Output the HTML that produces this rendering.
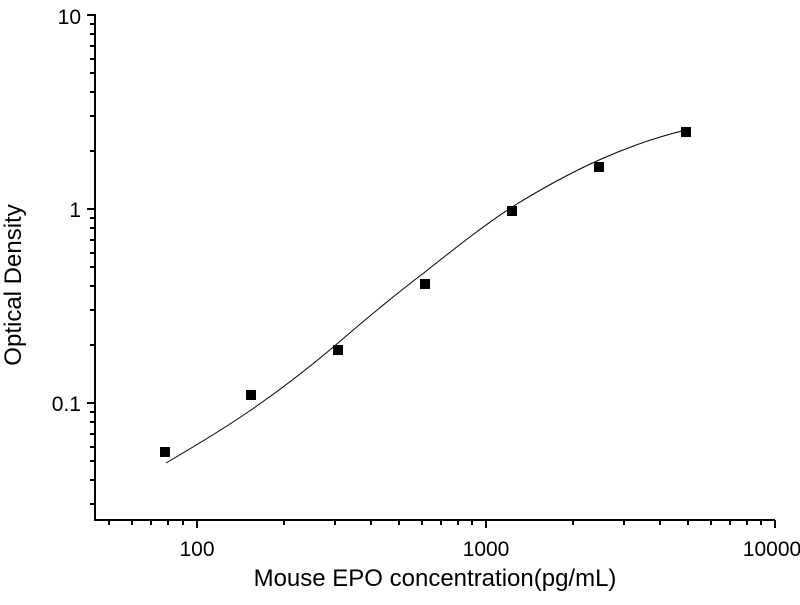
<!DOCTYPE html>
<html><head><style>body{margin:0;background:#fff}</style></head><body>
<svg width="800" height="600" xmlns="http://www.w3.org/2000/svg" font-family="Liberation Sans, sans-serif">
<rect width="800" height="600" fill="#fff"/>
<g stroke="#000" stroke-width="2" fill="none">
<line x1="95" y1="14" x2="95" y2="520"/>
<line x1="94" y1="520" x2="775" y2="520"/>
<line x1="87" y1="15" x2="95" y2="15"/>
<line x1="87" y1="209" x2="95" y2="209"/>
<line x1="87" y1="403" x2="95" y2="403"/>
<line x1="90" y1="24" x2="95" y2="24"/>
<line x1="90" y1="34" x2="95" y2="34"/>
<line x1="90" y1="46" x2="95" y2="46"/>
<line x1="90" y1="59" x2="95" y2="59"/>
<line x1="90" y1="73" x2="95" y2="73"/>
<line x1="90" y1="92" x2="95" y2="92"/>
<line x1="90" y1="116" x2="95" y2="116"/>
<line x1="90" y1="151" x2="95" y2="151"/>
<line x1="90" y1="218" x2="95" y2="218"/>
<line x1="90" y1="228" x2="95" y2="228"/>
<line x1="90" y1="240" x2="95" y2="240"/>
<line x1="90" y1="253" x2="95" y2="253"/>
<line x1="90" y1="267" x2="95" y2="267"/>
<line x1="90" y1="286" x2="95" y2="286"/>
<line x1="90" y1="310" x2="95" y2="310"/>
<line x1="90" y1="345" x2="95" y2="345"/>
<line x1="90" y1="412" x2="95" y2="412"/>
<line x1="90" y1="422" x2="95" y2="422"/>
<line x1="90" y1="434" x2="95" y2="434"/>
<line x1="90" y1="447" x2="95" y2="447"/>
<line x1="90" y1="461" x2="95" y2="461"/>
<line x1="90" y1="480" x2="95" y2="480"/>
<line x1="90" y1="504" x2="95" y2="504"/>
<line x1="197" y1="520" x2="197" y2="528"/>
<line x1="486" y1="520" x2="486" y2="528"/>
<line x1="775" y1="520" x2="775" y2="528"/>
<line x1="109" y1="520" x2="109" y2="525"/>
<line x1="132" y1="520" x2="132" y2="525"/>
<line x1="151" y1="520" x2="151" y2="525"/>
<line x1="168" y1="520" x2="168" y2="525"/>
<line x1="183" y1="520" x2="183" y2="525"/>
<line x1="284" y1="520" x2="284" y2="525"/>
<line x1="335" y1="520" x2="335" y2="525"/>
<line x1="371" y1="520" x2="371" y2="525"/>
<line x1="399" y1="520" x2="399" y2="525"/>
<line x1="422" y1="520" x2="422" y2="525"/>
<line x1="441" y1="520" x2="441" y2="525"/>
<line x1="458" y1="520" x2="458" y2="525"/>
<line x1="472" y1="520" x2="472" y2="525"/>
<line x1="573" y1="520" x2="573" y2="525"/>
<line x1="624" y1="520" x2="624" y2="525"/>
<line x1="660" y1="520" x2="660" y2="525"/>
<line x1="688" y1="520" x2="688" y2="525"/>
<line x1="711" y1="520" x2="711" y2="525"/>
<line x1="730" y1="520" x2="730" y2="525"/>
<line x1="747" y1="520" x2="747" y2="525"/>
<line x1="761" y1="520" x2="761" y2="525"/>
</g>
<path d="M166,463 C195,446 225,428 251,410 C280,390 310,367 338,343 C367,318 396,294 425,272 C454,249 483,226 512,207 C541,189 570,173 599,160 C628,147 657,137 686,130" stroke="#000" stroke-width="1" fill="none"/>
<g fill="#000">
<rect x="160" y="447" width="10" height="10"/>
<rect x="246" y="390" width="10" height="10"/>
<rect x="333" y="345" width="10" height="10"/>
<rect x="420" y="279" width="10" height="10"/>
<rect x="507" y="206" width="10" height="10"/>
<rect x="594" y="162" width="10" height="10"/>
<rect x="681" y="127" width="10" height="10"/>
</g>
<g font-size="21" fill="#000">
<text x="81" y="24" text-anchor="end">10</text>
<text x="81" y="217" text-anchor="end">1</text>
<text x="81" y="411" text-anchor="end">0.1</text>
<text x="197" y="556" text-anchor="middle">100</text>
<text x="486" y="556" text-anchor="middle">1000</text>
<text x="772" y="556" text-anchor="middle">10000</text>
</g>
<text x="435" y="586" font-size="24" text-anchor="middle">Mouse EPO concentration(pg/mL)</text>
<text transform="translate(21,285) rotate(-90)" font-size="24" text-anchor="middle">Optical Density</text>
</svg>
</body></html>
